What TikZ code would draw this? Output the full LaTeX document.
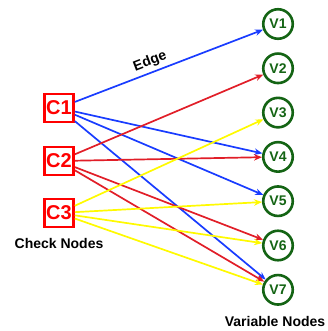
\documentclass[tikz,border=0pt]{standalone}
\usepackage{fontspec}
\setmainfont{Liberation Sans}
\usetikzlibrary{positioning,arrows.meta}
\definecolor{chkred}{RGB}{255,0,0}
\definecolor{vargreen}{RGB}{20,100,20}
\definecolor{edgeblue}{RGB}{25,60,255}
\definecolor{edgered}{RGB}{225,30,40}
\definecolor{edgeyellow}{RGB}{255,250,0}
\begin{document}
\begin{tikzpicture}[
		x=1pt, y=-1pt,
		>={Stealth[length=8pt,width=6.5pt]},
		on grid,
		check/.style={
			draw=chkred,
			text=chkred,
			line width=2.6pt,
			rectangle,
			minimum width=29pt,
			minimum height=28pt,
			inner sep=1pt,
			font=\fontsize{20}{22}\selectfont\bfseries
		},
		var/.style={
			draw=vargreen,
			text=vargreen,
			line width=2.6pt,
			circle,
			minimum size=29.5pt,
			inner sep=0pt,
			font=\fontsize{14}{16}\selectfont\bfseries
		},
		caption/.style={font=\fontsize{14}{16}\selectfont\bfseries},
		link/.style={->, line width=1.7pt}
		]
		\useasboundingbox (0,0) rectangle (328,331);
		
		% Check nodes
		\node[check] (C1) at (59,108) {C1};
		\node[check, below=53pt of C1] (C2) {C2};
		\node[check, below=52pt of C2] (C3) {C3};
		\node[caption, below=30pt of C3] (checklabel) {Check Nodes};
		
		% Variable nodes
		\node[var] (V1) at (278,24) {V1};
		\node[var, below=44.3pt of V1] (V2) {V2};
		\node[var, below=44.3pt of V2] (V3) {V3};
		\node[var, below=44.3pt of V3] (V4) {V4};
		\node[var, below=44.3pt of V4] (V5) {V5};
		\node[var, below=44.3pt of V5] (V6) {V6};
		\node[var, below=44.3pt of V6] (V7) {V7};
		\node[caption, below=32pt of V7, xshift=-3pt] (varlabel) {Variable Nodes};
		
		% Edges from C1
		\draw[link, edgeblue] (C1) -- node[pos=0.42, above, sloped, black, caption] {Edge} (V1);
		\draw[link, edgeblue] (C1) -- (V4);
		\draw[link, edgeblue] (C1) -- (V5);
		\draw[link, edgeblue] (C1) -- (V7);
		
		% Edges from C2
		\draw[link, edgered] (C2) -- (V2);
		\draw[link, edgered] (C2) -- (V4);
		\draw[link, edgered] (C2) -- (V6);
		\draw[link, edgered] (C2) -- (V7);
		
		% Edges from C3
		\draw[link, edgeyellow] (C3) -- (V3);
		\draw[link, edgeyellow] (C3) -- (V5);
		\draw[link, edgeyellow] (C3) -- (V6);
		\draw[link, edgeyellow] (C3) -- (V7);
	\end{tikzpicture}
\end{document}
